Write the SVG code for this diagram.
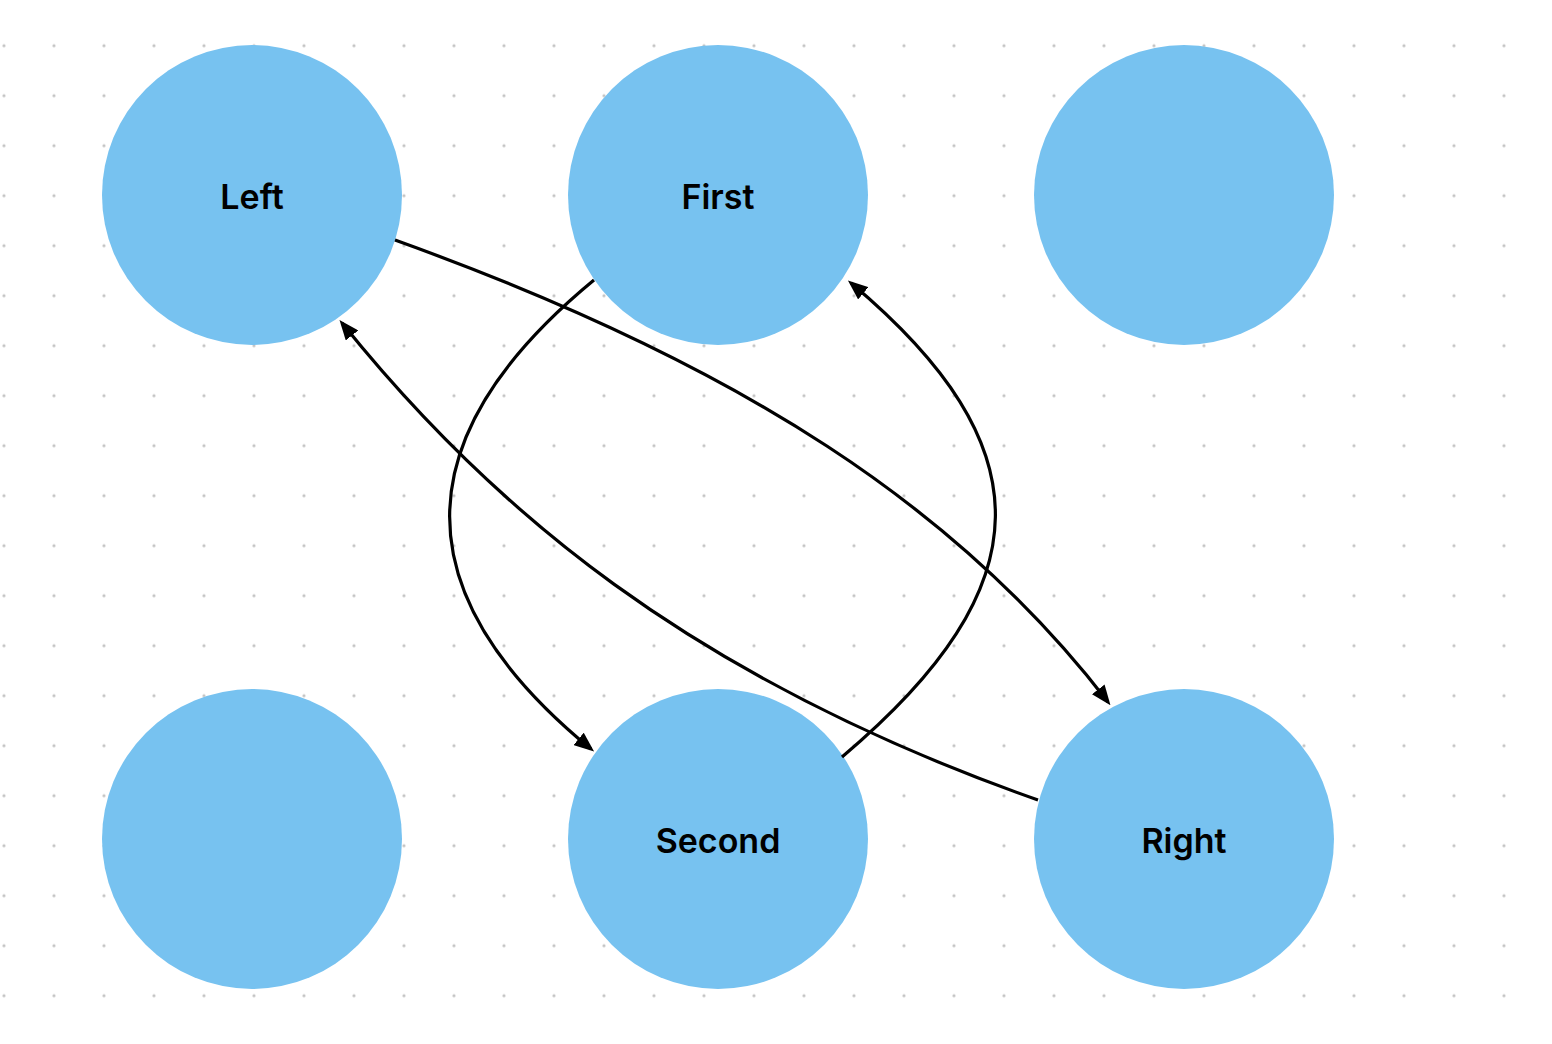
<svg xmlns="http://www.w3.org/2000/svg" width="1552" height="1044" viewBox="0 0 1552 1044">
  <defs>
    <pattern id="dots" patternUnits="userSpaceOnUse" x="-21" y="20.7" width="50" height="50">
      <circle cx="25" cy="25" r="1.6" fill="#c4c4c4"/>
    </pattern>
    <marker id="arrow" markerUnits="userSpaceOnUse" viewBox="0 0 20 16" markerWidth="20" markerHeight="16" refX="16" refY="8" orient="auto">
      <path d="M0,0 L20,8 L0,16 z" fill="#000"/>
    </marker>
    <style>
      .node { fill: #77c2f0; }
      .label { font-family: Inter, "Liberation Sans", sans-serif; font-size: 34px; font-weight: 600; fill: #000; text-anchor: middle; dominant-baseline: central; }
      .edge { fill: none; stroke: #000; stroke-width: 3.2; marker-end: url(#arrow); }
    </style>
  </defs>
  <rect width="1552" height="1044" fill="#fff"/>
  <rect x="0" y="30" width="1520" height="980" fill="url(#dots)"/>

  <g id="node-left"><circle class="node" cx="252" cy="195" r="150"/><text class="label" x="252" y="196">Left</text></g>
  <g id="node-first"><circle class="node" cx="718" cy="195" r="150"/><text class="label" x="718" y="196">First</text></g>
  <g id="node-topright"><circle class="node" cx="1184" cy="195" r="150"/></g>
  <g id="node-bottomleft"><circle class="node" cx="252" cy="839" r="150"/></g>
  <g id="node-second"><circle class="node" cx="718" cy="839" r="150"/><text class="label" x="718" y="840">Second</text></g>
  <g id="node-right"><circle class="node" cx="1184" cy="839" r="150"/><text class="label" x="1184" y="840">Right</text></g>

  <g id="connectors">
    <path class="edge" d="M395,240 C745,366 960,510 1108,702"/>
    <path class="edge" d="M1038,800 C688,677 490,507 342,323"/>
    <path class="edge" d="M594,280 C402,438 402,594 591,749"/>
    <path class="edge" d="M842,757 C1045,586 1045,446 851,283"/>
  </g>
</svg>
